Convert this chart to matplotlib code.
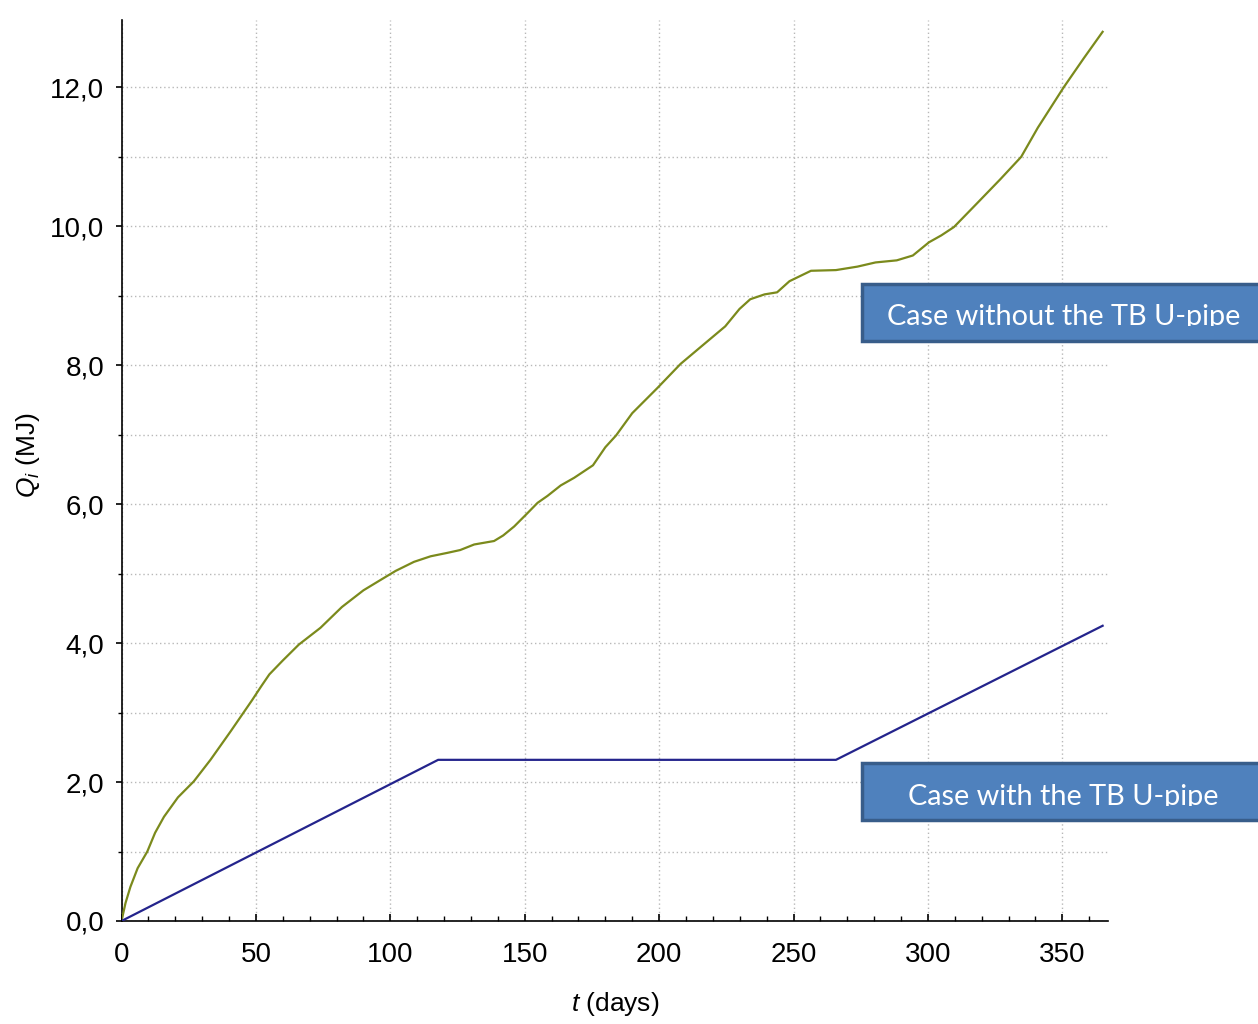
import matplotlib
matplotlib.use("Agg")
import matplotlib.pyplot as plt
from matplotlib.ticker import MultipleLocator, FuncFormatter
from matplotlib.patches import Rectangle
from matplotlib.transforms import Bbox, TransformedBbox

# ---- data ----
days_without = [0, 1.5, 3.3, 6, 9.6, 12.5, 15.8, 21, 26.9, 33.1, 40.6, 48.6, 52, 55, 60, 66, 74, 82,
                90, 96.4, 102, 108.8, 115, 121.3, 126, 131.2, 138.6, 142, 146.1, 151,
                154.8, 158.5, 163.4, 168.4, 175.4, 180, 184, 190, 199.3, 208, 216.6,
                224.6, 229.9, 233.9, 239.2, 243.9, 248.5, 256.5, 265.8, 273.8, 280.5,
                288.4, 294.4, 300.4, 305, 309.7, 318, 327, 334.7, 340.9, 350.5, 358, 365]
q_without = [0, 0.26, 0.49, 0.76, 1.0, 1.27, 1.50, 1.78, 2.01, 2.32, 2.73, 3.18, 3.38, 3.55, 3.75,
             3.98, 4.22, 4.52, 4.76, 4.91, 5.04, 5.17, 5.25, 5.30, 5.34, 5.42, 5.47,
             5.55, 5.68, 5.87, 6.02, 6.12, 6.27, 6.38, 6.56, 6.82, 6.99, 7.31, 7.67,
             8.02, 8.30, 8.56, 8.81, 8.95, 9.02, 9.05, 9.21, 9.36, 9.37, 9.42, 9.48,
             9.51, 9.58, 9.77, 9.87, 9.99, 10.32, 10.68, 11.0, 11.42, 12.0, 12.42, 12.80]

days_with = [0, 117.8, 265.8, 365]
q_with = [0, 2.32, 2.32, 4.25]

x_ticks = [0, 50, 100, 150, 200, 250, 300, 350]
y_ticks = [0, 2, 4, 6, 8, 10, 12]
label_without = "Case without the TB U-pipe"
label_with = "Case with the TB U-pipe"

# ---- figure ----
W, H = 1258, 1024
plt.rcParams['font.family'] = ['Liberation Sans', 'DejaVu Sans']
plt.rcParams['mathtext.fontset'] = 'custom'
plt.rcParams['mathtext.rm'] = 'Liberation Sans'
plt.rcParams['mathtext.it'] = 'Liberation Sans:italic'

fig = plt.figure(figsize=(W / 100, H / 100), dpi=100)
fig.patch.set_facecolor('white')

def fx(x):
    return x / W

def fy(y):
    return 1 - y / H

ax = fig.add_axes([fx(121.5), fy(921), fx(1108) - fx(121.5), fy(20) - fy(921)])
ax.plot(days_without, q_without, color='#7b8a1c', lw=1.6, zorder=3)
ax.plot(days_with, q_with, color='#24248c', lw=1.6, zorder=3)

ax.set_xlim(0, 367)
ax.set_ylim(0, 12.97)
ax.set_xticks(x_ticks)
ax.set_yticks(y_ticks)
ax.xaxis.set_minor_locator(MultipleLocator(10))
ax.yaxis.set_minor_locator(MultipleLocator(1))
ax.yaxis.set_major_formatter(FuncFormatter(lambda v, p: f"{v:.1f}".replace('.', ',')))

for s in ['top', 'right']:
    ax.spines[s].set_visible(False)
for s in ['left', 'bottom']:
    ax.spines[s].set_linewidth(1.2)
    ax.spines[s].set_color('black')

ax.tick_params(axis='x', which='major', direction='in', length=5, width=1.2,
               labelsize=20, pad=15)
ax.tick_params(axis='x', which='minor', direction='in', length=3.5, width=1.0)
ax.tick_params(axis='y', which='major', direction='out', length=4.5, width=1.2,
               labelsize=20, pad=8)
ax.tick_params(axis='y', which='minor', direction='out', length=3, width=1.0)

grid_kw = dict(color='#b8b8b8', linestyle=(0, (1, 2)), linewidth=1.0)
ax.xaxis.grid(True, which='major', **grid_kw)
ax.yaxis.grid(True, which='both', **grid_kw)
ax.set_axisbelow(True)

ax.set_xlabel(r'$t$ (days)', fontsize=19)
ax.set_ylabel(r'$Q_i$ (MJ)', fontsize=19)
ax.xaxis.set_label_coords(0.5, (921 - 1004) / (921 - 20), transform=ax.transAxes)
ax.xaxis.label.set_va('center')
ax.yaxis.set_label_coords(fx(28), fy(455), transform=fig.transFigure)
ax.yaxis.label.set_va('center')

# ---- annotation boxes ----
def callout(text, top, clip_y):
    x0, x1 = 862, 1266
    bottom = top + 57
    rect = Rectangle((fx(x0), fy(bottom)), fx(x1) - fx(x0), fy(top) - fy(bottom),
                     transform=fig.transFigure, facecolor='#4f81bd',
                     edgecolor='#385d8a', linewidth=2.5, zorder=5)
    fig.add_artist(rect)
    t = fig.text(fx(1063.5), fy(clip_y), text, ha='center', va='baseline',
                 color='white', fontsize=20.8, family=['Lato', 'DejaVu Sans'],
                 zorder=6)
    cb = TransformedBbox(Bbox.from_extents(fx(x0), fy(clip_y + 0.5), fx(x1), fy(top)),
                         fig.transFigure)
    t.set_clip_box(cb)
    t.set_clip_on(True)

callout(label_without, 283.5, 325.5)
callout(label_with, 763, 805.5)

fig.savefig('out.png', dpi=100, facecolor='white')
